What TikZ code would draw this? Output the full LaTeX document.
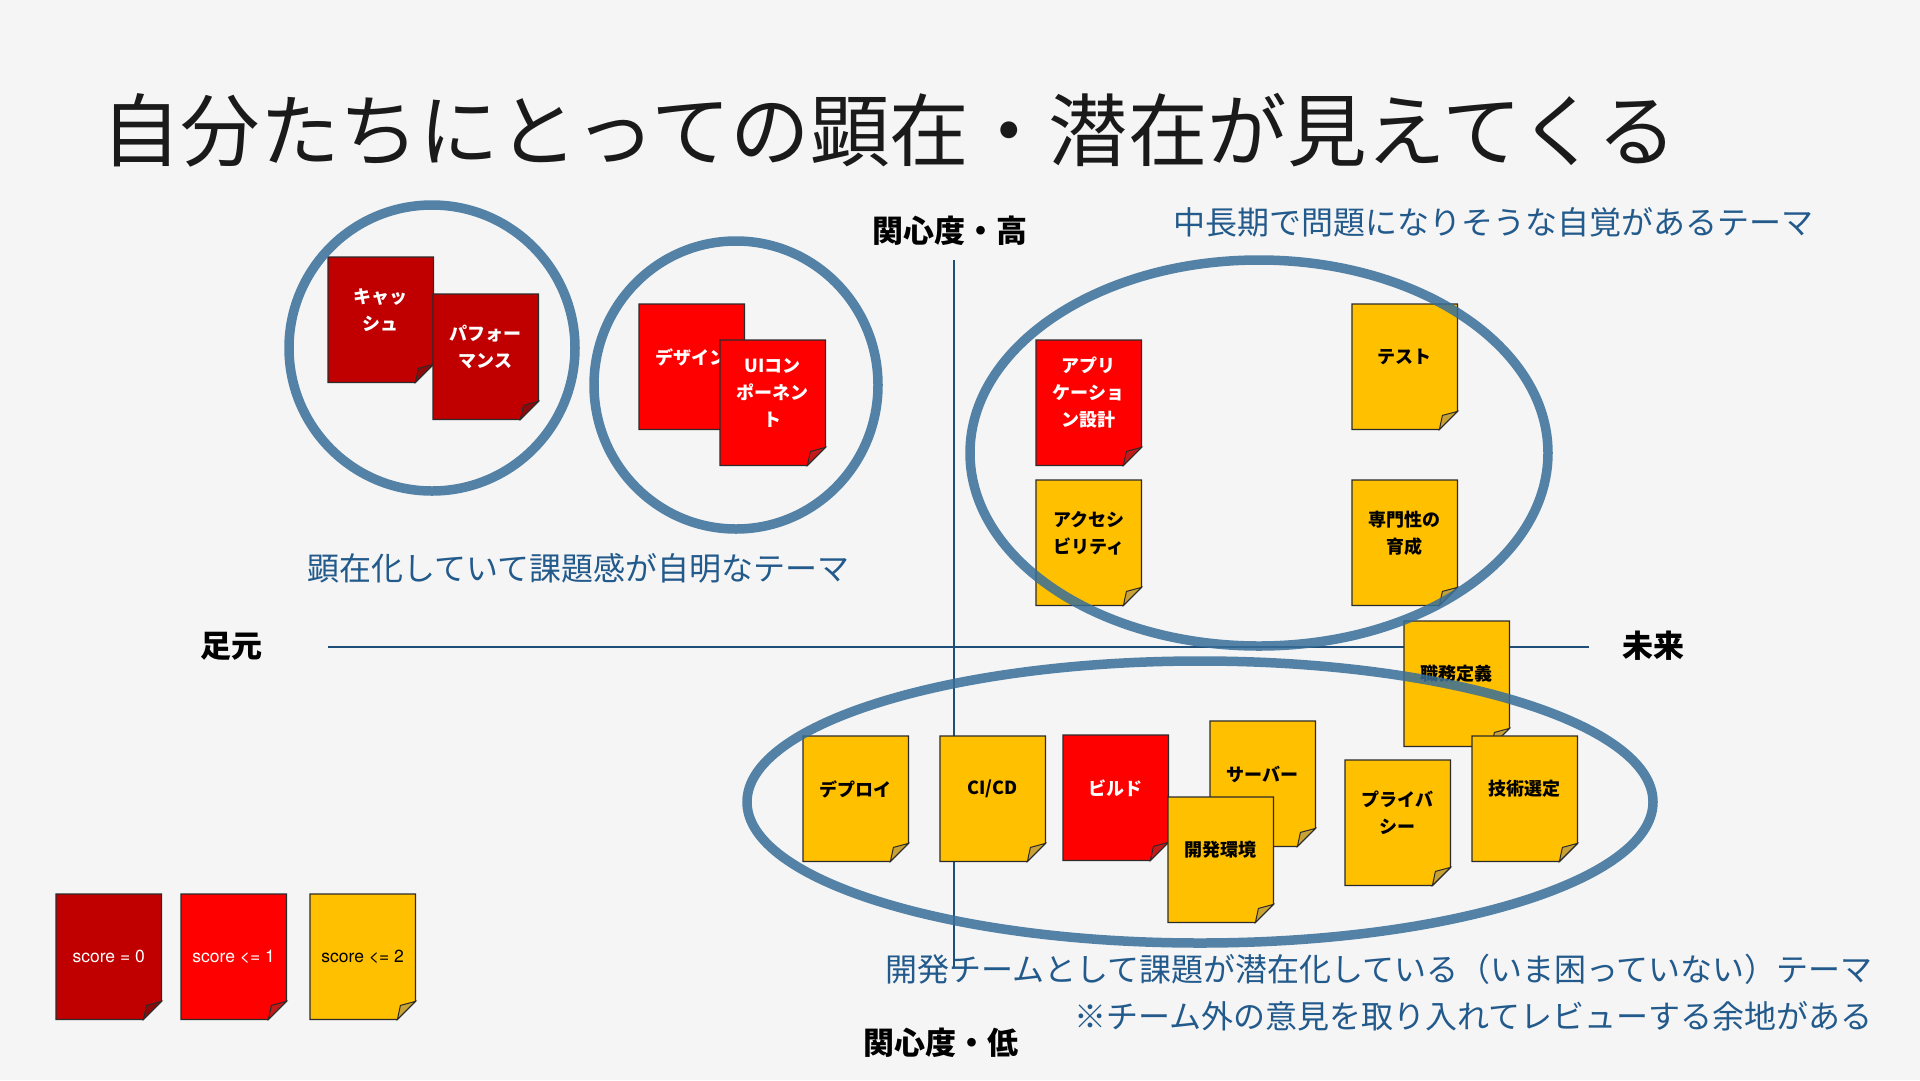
\documentclass[tikz,border=0pt]{standalone}
\usepackage{fontspec}
\usepackage{xcolor}

\newfontfamily\jpfont{Noto Sans CJK JP}
\newfontfamily\hvfont{TeX Gyre Heros}

\definecolor{bgcol}{HTML}{F5F5F5}
\definecolor{titleink}{HTML}{1A1A1A}
\definecolor{ringblue}{RGB}{56,110,153}
\definecolor{axisblue}{HTML}{1F4E79}
\definecolor{themeblue}{HTML}{235A8C}
\definecolor{noteline}{HTML}{2B2B2B}
\definecolor{darkpaper}{HTML}{C00000}
\definecolor{darkfold}{HTML}{8E0A0A}
\definecolor{darkink}{HTML}{FFFFFF}
\definecolor{redpaper}{HTML}{FF0000}
\definecolor{redfold}{HTML}{C41A1A}
\definecolor{redink}{HTML}{FFFFFF}
\definecolor{yellowpaper}{HTML}{FFC000}
\definecolor{yellowfold}{HTML}{C9A236}
\definecolor{yellowink}{HTML}{000000}

\tikzset{
  notebody/.style={minimum width=105, minimum height=125, inner sep=0, anchor=north west},
  notetext/.style={font=\jpfont\bfseries\fontsize{18}{27}\selectfont, align=center, inner sep=0},
  legendtext/.style={font=\hvfont\fontsize{17.5}{20}\selectfont, inner sep=0},
  ring/.style={draw=ringblue, line width=9.5, opacity=0.85},
  axisline/.style={draw=axisblue},
  theme/.style={font=\jpfont\fontsize{32}{38}\selectfont, text=themeblue, inner sep=0},
  axislabel/.style={font=\jpfont\bfseries\fontsize{31}{36}\selectfont, text=black, inner sep=0, anchor=base},
}

% paper with a curled corner: name, top-left, kind (dark/red/yellow)
\newcommand{\notepaper}[3]{%
  \node[notebody] (#1) at (#2) {};
  \filldraw[fill=#3paper, draw=noteline, line width=1.3]
    (#1.north west) -- (#1.north east) -- ([yshift=18]#1.south east)
    -- ([xshift=-18]#1.south east) -- (#1.south west) -- cycle;
  \filldraw[fill=#3fold, draw=noteline, line width=1]
    ([xshift=-18]#1.south east) -- ([yshift=18]#1.south east)
    -- ([xshift=-15,yshift=14]#1.south east) -- cycle;
}
% sticky note with its words: name, top-left, kind, text
\newcommand{\stickynote}[4]{%
  \notepaper{#1}{#2}{#3}
  \node[notetext, text=#3ink] (#1-label) at ([yshift=-53]#1.north) {#4};
}

\begin{document}
\begin{tikzpicture}[x=1pt, y=-1pt]
        \fill[bgcol] (0,0) rectangle (1920,1080);
        \useasboundingbox (0,0) rectangle (1920,1080);

        % Title
        \node[font=\jpfont\fontsize{79.5}{90}\selectfont, text=titleink, anchor=base west, inner sep=0] (title) at (101,160) {自分たちにとっての顕在・潜在が見えてくる};

        % Axes
        \coordinate (left end) at (328,647);
        \coordinate (right end) at (1589,647);
        \coordinate (top end) at (954,260);
        \coordinate (bottom end) at (954,967);
        \draw[axisline, line width=2.5] (left end) -- (right end);
        \draw[axisline, line width=1.5] (top end) -- (bottom end);

        \node[axislabel] (high) at (950,242) {関心度・高};
        \node[axislabel] (low) at (941,1054) {関心度・低};
        \node[axislabel] (near) at (231,657) {足元};
        \node[axislabel] (future) at (1653,657) {未来};

        % Obvious themes
        \stickynote{cache}{328,257}{dark}{キャッ\\シュ}
        \stickynote{perf}{433,294}{dark}{パフォー\\マンス}
        \stickynote{design}{639,304}{red}{デザイン}
        \stickynote{uicomp}{720,340}{red}{UIコン\\ポーネン\\ト}

        % Mid and long term themes
        \stickynote{appdesign}{1036,340}{red}{アプリ\\ケーショ\\ン設計}
        \stickynote{a11y}{1036,480}{yellow}{アクセシ\\ビリティ}
        \stickynote{test}{1352,304}{yellow}{テスト}
        \stickynote{expert}{1352,480}{yellow}{専門性の\\育成}
        \stickynote{roles}{1404,621}{yellow}{職務定義}

        % Latent themes
        \stickynote{deploy}{803,736}{yellow}{デプロイ}
        \stickynote{cicd}{940,736}{yellow}{CI/CD}
        \stickynote{build}{1063,735}{red}{ビルド}
        \stickynote{server}{1210,721}{yellow}{サーバー}
        \stickynote{devenv}{1168,797}{yellow}{開発環境}
        \stickynote{privacy}{1345,760}{yellow}{プライバ\\シー}
        \stickynote{techpick}{1472,736}{yellow}{技術選定}

        % Rings
        \draw[ring] (432,348) ellipse [x radius=143, y radius=143];
        \draw[ring] (736,385) ellipse [x radius=142, y radius=144];
        \draw[ring] (1259,453) ellipse [x radius=289, y radius=193];
        \draw[ring] (1200,802) ellipse [x radius=453, y radius=141];

        % Theme captions
        \node[theme, anchor=base west] (obvious) at (1173,234) {中長期で問題になりそうな自覚があるテーマ};
        \node[theme, anchor=base west] (aware) at (307,580) {顕在化していて課題感が自明なテーマ};
        \node[theme, anchor=base east] (latent) at (1873,981) {開発チームとして課題が潜在化している（いま困っていない）テーマ};
        \node[theme, anchor=base east] (review) at (1873,1028) {※チーム外の意見を取り入れてレビューする余地がある};

        % Legend
        \notepaper{score0}{56,894}{dark}
        \node[legendtext, text=darkink] (score0-label) at (score0.center) {score = 0};
        \notepaper{score1}{181,894}{red}
        \node[legendtext, text=redink] (score1-label) at (score1.center) {score <= 1};
        \notepaper{score2}{310,894}{yellow}
        \node[legendtext, text=yellowink] (score2-label) at (score2.center) {score <= 2};
    \end{tikzpicture}
\end{document}
